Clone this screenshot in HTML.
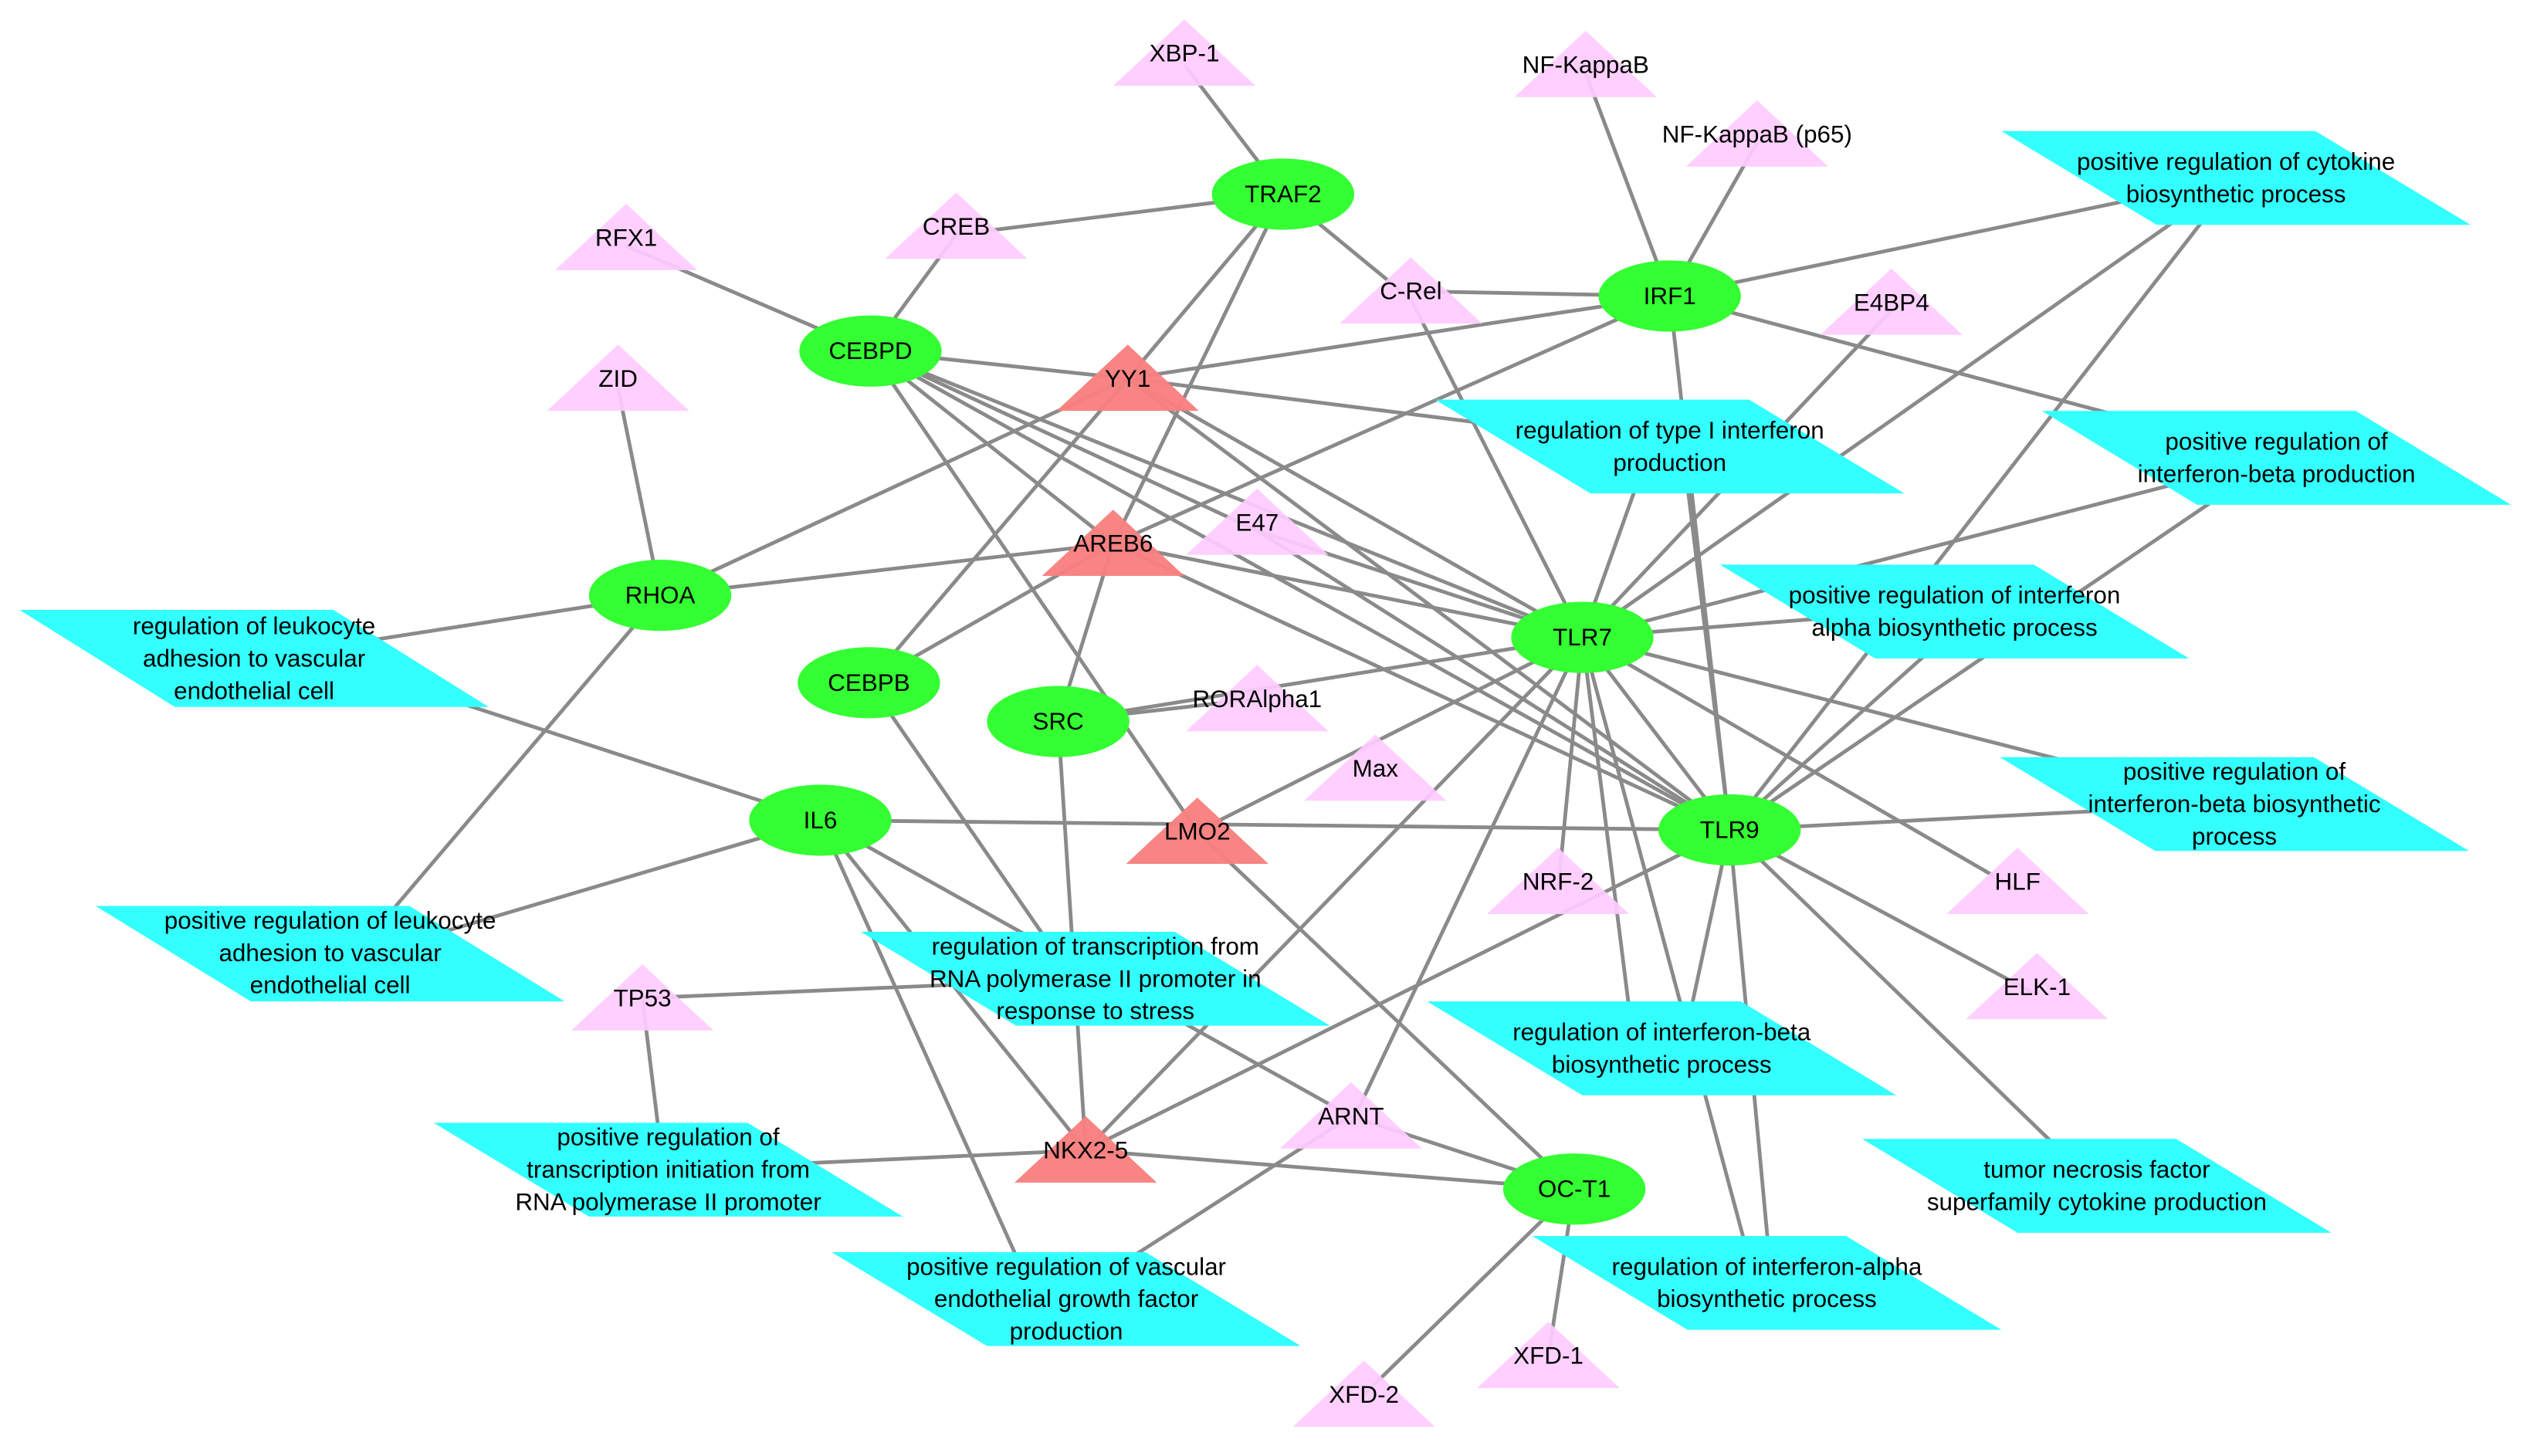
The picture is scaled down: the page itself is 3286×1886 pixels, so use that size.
<!DOCTYPE html>
<html><head><meta charset="utf-8"><style>
html,body{margin:0;padding:0;background:#fff;}
svg{display:block;}
text{font-family:"Liberation Sans",Arial,sans-serif;font-size:15px;fill:#000;text-anchor:middle;dominant-baseline:central;}
</style></head><body>
<svg width="3286" height="1886" viewBox="0 0 1568 900" xmlns="http://www.w3.org/2000/svg">
<rect width="1568" height="900" fill="#fff"/>
<g stroke="#8a8a8a" stroke-width="2.3" fill="none">
<!-- TRAF2 -->
<line x1="732" y1="40" x2="793" y2="120"/>
<line x1="591" y1="145" x2="793" y2="120"/>
<line x1="793" y1="120" x2="872" y2="185"/>
<line x1="793" y1="120" x2="697" y2="234"/>
<line x1="793" y1="120" x2="688" y2="336"/>
<!-- CEBPD -->
<line x1="591" y1="145" x2="538" y2="217"/>
<line x1="387" y1="152" x2="538" y2="217"/>
<line x1="538" y1="217" x2="697" y2="234"/>
<line x1="538" y1="217" x2="688" y2="336"/>
<line x1="538" y1="217" x2="777" y2="328"/>
<line x1="538" y1="217" x2="978" y2="394"/>
<line x1="538" y1="217" x2="1069" y2="513"/>
<line x1="538" y1="217" x2="740" y2="514"/>
<!-- YY1 -->
<line x1="697" y1="234" x2="1032" y2="276"/>
<line x1="697" y1="234" x2="1032" y2="183"/>
<line x1="697" y1="234" x2="408" y2="368"/>
<line x1="697" y1="234" x2="537" y2="422"/>
<line x1="697" y1="234" x2="978" y2="394"/>
<line x1="697" y1="234" x2="1069" y2="513"/>
<!-- IRF1 -->
<line x1="980" y1="45" x2="1032" y2="183"/>
<line x1="1086" y1="88" x2="1032" y2="183"/>
<line x1="872" y1="180" x2="1032" y2="183"/>
<line x1="1032" y1="183" x2="1382" y2="110"/>
<line x1="1032" y1="183" x2="1407" y2="283"/>
<line x1="1032" y1="183" x2="688" y2="336"/>
<line x1="1032" y1="183" x2="1069" y2="513"/>
<line x1="872" y1="185" x2="978" y2="394"/>
<line x1="1169" y1="192" x2="978" y2="394"/>
<!-- RHOA -->
<line x1="382" y1="240" x2="408" y2="368"/>
<line x1="408" y1="368" x2="688" y2="336"/>
<line x1="408" y1="368" x2="157" y2="407"/>
<line x1="408" y1="368" x2="220" y2="589"/>
<!-- AREB6 -->
<line x1="688" y1="336" x2="978" y2="394"/>
<line x1="688" y1="336" x2="1069" y2="513"/>
<line x1="688" y1="336" x2="537" y2="422"/>
<line x1="688" y1="336" x2="654" y2="446"/>
<line x1="777" y1="328" x2="978" y2="394"/>
<line x1="777" y1="328" x2="1069" y2="513"/>
<!-- IL6 -->
<line x1="200" y1="407" x2="507" y2="507"/>
<line x1="507" y1="507" x2="230" y2="589"/>
<line x1="507" y1="507" x2="1069" y2="513"/>
<line x1="507" y1="507" x2="671" y2="711"/>
<line x1="507" y1="507" x2="640" y2="803"/>
<line x1="507" y1="507" x2="835" y2="690"/>
<!-- TLR7 -->
<line x1="978" y1="394" x2="1020" y2="276"/>
<line x1="978" y1="394" x2="1180" y2="378"/>
<line x1="978" y1="394" x2="1407" y2="283"/>
<line x1="978" y1="394" x2="1382" y2="110"/>
<line x1="978" y1="394" x2="654" y2="446"/>
<line x1="978" y1="394" x2="740" y2="514"/>
<line x1="978" y1="394" x2="963" y2="550"/>
<line x1="978" y1="394" x2="1247" y2="550"/>
<line x1="978" y1="394" x2="1381" y2="497"/>
<line x1="978" y1="394" x2="1010" y2="648"/>
<line x1="978" y1="394" x2="1085" y2="793"/>
<line x1="978" y1="394" x2="835" y2="695"/>
<line x1="978" y1="394" x2="671" y2="711"/>
<line x1="978" y1="394" x2="1069" y2="513"/>
<!-- TLR9 -->
<line x1="1069" y1="513" x2="1382" y2="110"/>
<line x1="1069" y1="513" x2="1407" y2="283"/>
<line x1="1069" y1="513" x2="1220" y2="378"/>
<line x1="1069" y1="513" x2="1381" y2="497"/>
<line x1="1069" y1="513" x2="1259" y2="615"/>
<line x1="1069" y1="513" x2="1296" y2="733"/>
<line x1="1069" y1="513" x2="1040" y2="648"/>
<line x1="1069" y1="513" x2="1095" y2="793"/>
<line x1="1069" y1="513" x2="671" y2="711"/>
<line x1="1069" y1="513" x2="1040" y2="276"/>
<!-- SRC etc -->
<line x1="654" y1="446" x2="777" y2="432"/>
<line x1="654" y1="446" x2="671" y2="711"/>
<line x1="537" y1="422" x2="660" y2="600"/>
<line x1="397" y1="617" x2="677" y2="605"/>
<line x1="397" y1="617" x2="410" y2="723"/>
<line x1="671" y1="711" x2="413" y2="723"/>
<line x1="671" y1="711" x2="973" y2="735"/>
<line x1="740" y1="514" x2="973" y2="735"/>
<line x1="835" y1="690" x2="973" y2="735"/>
<line x1="835" y1="690" x2="659" y2="803"/>
<line x1="973" y1="735" x2="843" y2="862"/>
<line x1="973" y1="735" x2="957" y2="838"/>
</g>
<!-- parallelograms -->
<g fill="#33ffff">
<polygon points="1237,81 1431,81 1527,139 1333,139"/>
<polygon points="887,247 1081,247 1177,305 983,305"/>
<polygon points="1262,254 1456,254 1552,312 1358,312"/>
<polygon points="1063,349 1257,349 1353,407 1159,407"/>
<polygon points="12,377 206,377 302,437 108,437"/>
<polygon points="1236,468 1430,468 1526,526 1332,526"/>
<polygon points="59,560 253,560 349,619 155,619"/>
<polygon points="532,576 726,576 822,634 628,634"/>
<polygon points="882,619 1076,619 1172,677 978,677"/>
<polygon points="268,694 462,694 558,752 364,752"/>
<polygon points="1151,704 1345,704 1441,762 1247,762"/>
<polygon points="514,774 708,774 804,832 610,832"/>
<polygon points="947,764 1141,764 1237,822 1043,822"/>
</g>
<!-- pink triangles -->
<g fill="#ffccff" fill-opacity="0.92">
<polygon points="732,12 776,53 688,53"/>
<polygon points="980,19 1024,60 936,60"/>
<polygon points="1086,62 1130,103 1042,103"/>
<polygon points="387,126 431,167 343,167"/>
<polygon points="591,119 635,160 547,160"/>
<polygon points="872,159 916,200 828,200"/>
<polygon points="1169,166 1213,207 1125,207"/>
<polygon points="382,213 426,254 338,254"/>
<polygon points="777,302 821,343 733,343"/>
<polygon points="777,411 821,452 733,452"/>
<polygon points="850,454 894,495 806,495"/>
<polygon points="963,524 1007,565 919,565"/>
<polygon points="1247,524 1291,565 1203,565"/>
<polygon points="1259,589 1303,630 1215,630"/>
<polygon points="397,596 441,637 353,637"/>
<polygon points="835,669 879,710 791,710"/>
<polygon points="843,841 887,882 799,882"/>
<polygon points="957,817 1001,858 913,858"/>
</g>
<!-- red triangles -->
<g fill="#f88080" fill-opacity="0.97">
<polygon points="697,213 741,254 653,254"/>
<polygon points="688,315 732,356 644,356"/>
<polygon points="740,493 784,534 696,534"/>
<polygon points="671,690 715,731 627,731"/>
</g>
<!-- ellipses -->
<g fill="#33ff33">
<ellipse cx="793" cy="120" rx="44" ry="22"/>
<ellipse cx="1032" cy="183" rx="44" ry="22"/>
<ellipse cx="538" cy="217" rx="44" ry="22"/>
<ellipse cx="408" cy="368" rx="44" ry="22"/>
<ellipse cx="978" cy="394" rx="44" ry="22"/>
<ellipse cx="537" cy="422" rx="44" ry="22"/>
<ellipse cx="654" cy="446" rx="44" ry="22"/>
<ellipse cx="507" cy="507" rx="44" ry="22"/>
<ellipse cx="1069" cy="513" rx="44" ry="22"/>
<ellipse cx="973" cy="735" rx="44" ry="22"/>
</g>
<g>
<text x="793" y="120">TRAF2</text>
<text x="1032" y="183">IRF1</text>
<text x="538" y="217">CEBPD</text>
<text x="408" y="368">RHOA</text>
<text x="978" y="394">TLR7</text>
<text x="537" y="422">CEBPB</text>
<text x="654" y="446">SRC</text>
<text x="507" y="507">IL6</text>
<text x="1069" y="513">TLR9</text>
<text x="973" y="735">OC-T1</text>
<text x="697" y="234">YY1</text>
<text x="688" y="336">AREB6</text>
<text x="740" y="514">LMO2</text>
<text x="671" y="711">NKX2-5</text>
<text x="732" y="33">XBP-1</text>
<text x="980" y="40">NF-KappaB</text>
<text x="1086" y="83">NF-KappaB (p65)</text>
<text x="387" y="147">RFX1</text>
<text x="591" y="140">CREB</text>
<text x="872" y="180">C-Rel</text>
<text x="1169" y="187">E4BP4</text>
<text x="382" y="234">ZID</text>
<text x="777" y="323">E47</text>
<text x="777" y="432">RORAlpha1</text>
<text x="850" y="475">Max</text>
<text x="963" y="545">NRF-2</text>
<text x="1247" y="545">HLF</text>
<text x="1259" y="610">ELK-1</text>
<text x="397" y="617">TP53</text>
<text x="835" y="690">ARNT</text>
<text x="843" y="862">XFD-2</text>
<text x="957" y="838">XFD-1</text>
<text x="1382" y="100">positive regulation of cytokine</text>
<text x="1382" y="120">biosynthetic process</text>
<text x="1032" y="266">regulation of type I interferon</text>
<text x="1032" y="286">production</text>
<text x="1407" y="273">positive regulation of</text>
<text x="1407" y="293">interferon-beta production</text>
<text x="1208" y="368">positive regulation of interferon</text>
<text x="1208" y="388">alpha biosynthetic process</text>
<text x="157" y="387">regulation of leukocyte</text>
<text x="157" y="407">adhesion to vascular</text>
<text x="157" y="427">endothelial cell</text>
<text x="1381" y="477">positive regulation of</text>
<text x="1381" y="497">interferon-beta biosynthetic</text>
<text x="1381" y="517">process</text>
<text x="204" y="569">positive regulation of leukocyte</text>
<text x="204" y="589">adhesion to vascular</text>
<text x="204" y="609">endothelial cell</text>
<text x="677" y="585">regulation of transcription from</text>
<text x="677" y="605">RNA polymerase II promoter in</text>
<text x="677" y="625">response to stress</text>
<text x="1027" y="638">regulation of interferon-beta</text>
<text x="1027" y="658">biosynthetic process</text>
<text x="413" y="703">positive regulation of</text>
<text x="413" y="723">transcription initiation from</text>
<text x="413" y="743">RNA polymerase II promoter</text>
<text x="1296" y="723">tumor necrosis factor</text>
<text x="1296" y="743">superfamily cytokine production</text>
<text x="659" y="783">positive regulation of vascular</text>
<text x="659" y="803">endothelial growth factor</text>
<text x="659" y="823">production</text>
<text x="1092" y="783">regulation of interferon-alpha</text>
<text x="1092" y="803">biosynthetic process</text>
</g>
</svg>
</body></html>
